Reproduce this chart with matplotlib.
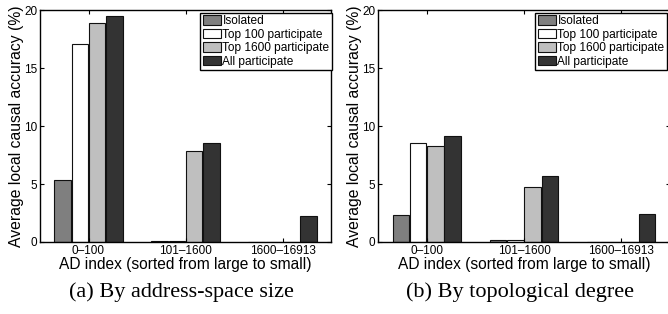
import matplotlib
matplotlib.use("Agg")
import matplotlib.pyplot as plt
import numpy as np

plt.rcParams['font.family'] = ['Liberation Sans', 'DejaVu Sans']

groups = ["0\u2013100", "101\u20131600", "1600\u201316913"]
series_names = ["Isolated", "Top 100 participate", "Top 1600 participate", "All participate"]
colors = ["#7f7f7f", "#ffffff", "#bfbfbf", "#333333"]

# (a) By address-space size
size_isolated = [5.35, 0.10, 0.0]
size_top100 = [17.07, 0.10, 0.0]
size_top1600 = [18.9, 7.87, 0.03]
size_all = [19.5, 8.5, 2.27]

# (b) By topological degree
deg_isolated = [2.34, 0.15, 0.0]
deg_top100 = [8.55, 0.15, 0.0]
deg_top1600 = [8.3, 4.7, 0.02]
deg_all = [9.12, 5.71, 2.45]

yticks = [0, 5, 10, 15, 20]
captions = ["(a) By address-space size", "(b) By topological degree"]

W, H = 668, 314
fig = plt.figure(figsize=(W / 100, H / 100), dpi=100)

def px_axes(x0, x1, y0, y1):
    return fig.add_axes([x0 / W, 1 - y1 / H, (x1 - x0) / W, (y1 - y0) / H])

offsets = [-0.267, -0.089, 0.089, 0.267]
bw = 0.168

def draw(ax, data, legend_right):
    x = np.arange(1, len(groups) + 1)
    for i, vals in enumerate(data):
        ax.bar(x + offsets[i], vals, width=bw, color=colors[i],
               edgecolor="#111111", linewidth=0.8, label=series_names[i])
    ax.set_xlim(0.5, 3.5)
    ax.set_ylim(0, 20)
    ax.set_xticks(x)
    ax.set_xticklabels(groups, fontsize=8.5)
    ax.set_yticks(yticks)
    ax.set_yticklabels([str(t) for t in yticks], fontsize=8.5)
    ax.tick_params(direction="in", top=True, right=True, length=3, width=0.8, pad=2)
    for s in ax.spines.values():
        s.set_linewidth(1.0)
    ax.set_xlabel("AD index (sorted from large to small)", fontsize=11.2, labelpad=0)
    ax.set_ylabel("Average local causal accuracy (%)", fontsize=11.3, labelpad=0)
    leg = ax.legend(loc="upper right", bbox_to_anchor=(legend_right / W, 1 - 13 / H),
                    bbox_transform=fig.transFigure, borderaxespad=0,
                    fontsize=8.6, frameon=True, fancybox=False, framealpha=1,
                    edgecolor="black", handlelength=1.5, handleheight=0.85,
                    handletextpad=0.15, labelspacing=0.12, borderpad=0.2)
    leg.get_frame().set_linewidth(1.0)

ax1 = px_axes(40, 331, 10, 242)
draw(ax1, [size_isolated, size_top100, size_top1600, size_all], 332)
ax2 = px_axes(378, 670, 10, 242)
draw(ax2, [deg_isolated, deg_top100, deg_top1600, deg_all], 667)

fig.text(181 / W, 1 - 292 / H, captions[0], family="Liberation Serif", fontsize=16,
         ha="center", va="center")
fig.text(520 / W, 1 - 292 / H, captions[1], family="Liberation Serif", fontsize=16,
         ha="center", va="center")

fig.savefig("out.png", dpi=100)
